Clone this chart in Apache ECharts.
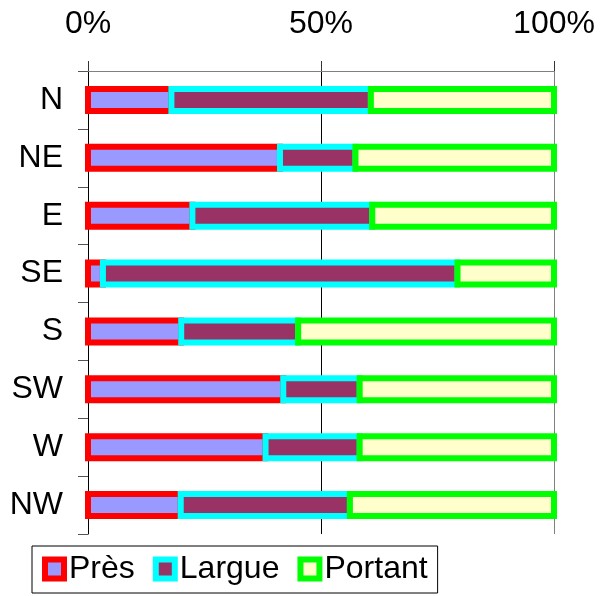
<!DOCTYPE html>
<html>
<head>
<meta charset="utf-8">
<script src="https://cdn.jsdelivr.net/npm/echarts@6/dist/echarts.min.js"></script>
<style>
html,body{margin:0;padding:0;background:#fff;}
#c{width:604px;height:596px;}
</style>
</head>
<body>
<div id="c"></div>
<script>
const categories = ['N', 'NE', 'E', 'SE', 'S', 'SW', 'W', 'NW'];
const pres = [17.9, 41.2, 22.4, 3.2, 20.0, 41.9, 38.1, 19.9];
const largue = [42.8, 16.2, 38.6, 76.1, 25.1, 16.4, 20.2, 36.3];
const portant = [39.3, 42.6, 39.0, 20.7, 54.9, 41.7, 41.7, 43.8];
const seriesNames = ['Près', 'Largue', 'Portant'];
const xTicks = [0, 50, 100];

const FONT = 'Liberation Sans, Arial, sans-serif';
const styles = [
  {color: '#9999FF', borderColor: '#FF0000'},
  {color: '#993366', borderColor: '#00FFFF'},
  {color: '#FFFFCC', borderColor: '#00FF00'}
];
const values = [pres, largue, portant];

// stacked segments [start, end, categoryIndex]
const cum = categories.map(() => 0);
const segData = values.map(arr => arr.map((v, j) => {
  const s = cum[j]; cum[j] += v; return [s, cum[j], j];
}));

const BAR_H = 22, BORDER = 6;

const chart = echarts.init(document.getElementById('c'), null, {renderer: 'canvas'});
chart.setOption({
  animation: false,
  backgroundColor: '#fff',
  grid: {left: 88, right: 50, top: 71, bottom: 62, containLabel: false},
  xAxis: {
    type: 'value', position: 'top', min: xTicks[0], max: xTicks[2], interval: 50,
    axisLine: {show: true, lineStyle: {color: '#808080', width: 1}},
    axisTick: {show: true, length: 10, lineStyle: {color: '#333'}},
    axisLabel: {formatter: '{value}%', fontFamily: FONT, fontSize: 32, color: '#000', margin: 31},
    splitLine: {show: true, lineStyle: {color: ['#000', '#000', '#808080'], width: 1}}
  },
  yAxis: {
    type: 'category', data: categories, inverse: true,
    axisLine: {show: true, lineStyle: {color: '#000', width: 1}},
    axisTick: {show: true, length: 10, alignWithLabel: false, lineStyle: {color: '#555'}},
    axisLabel: {fontFamily: FONT, fontSize: 32, color: '#000', margin: 25}
  },
  legend: {
    left: 32, top: 546,
    orient: 'horizontal',
    padding: [7, 10, 8, 10],
    borderColor: '#000', borderWidth: 1,
    itemWidth: 19, itemHeight: 19, itemGap: 18,
    icon: 'rect',
    textStyle: {fontFamily: FONT, fontSize: 32, color: '#000', lineHeight: 32},
    data: seriesNames.map((n, i) => ({name: n, icon: 'rect',
      itemStyle: {color: styles[i].color, borderColor: styles[i].borderColor, borderWidth: BORDER}}))
  },
  series: seriesNames.map((n, i) => ({
    name: n, type: 'custom',
    encode: {x: [0, 1], y: 2},
    itemStyle: {color: styles[i].color, borderColor: styles[i].borderColor, borderWidth: BORDER},
    renderItem: function (params, api) {
      const p0 = api.coord([api.value(0), api.value(2)]);
      const p1 = api.coord([api.value(1), api.value(2)]);
      return {
        type: 'rect',
        shape: {x: p0[0], y: p0[1] - BAR_H / 2, width: p1[0] - p0[0], height: BAR_H},
        style: {fill: styles[i].color, stroke: styles[i].borderColor, lineWidth: BORDER}
      };
    },
    data: segData[i]
  }))
});
</script>
</body>
</html>
